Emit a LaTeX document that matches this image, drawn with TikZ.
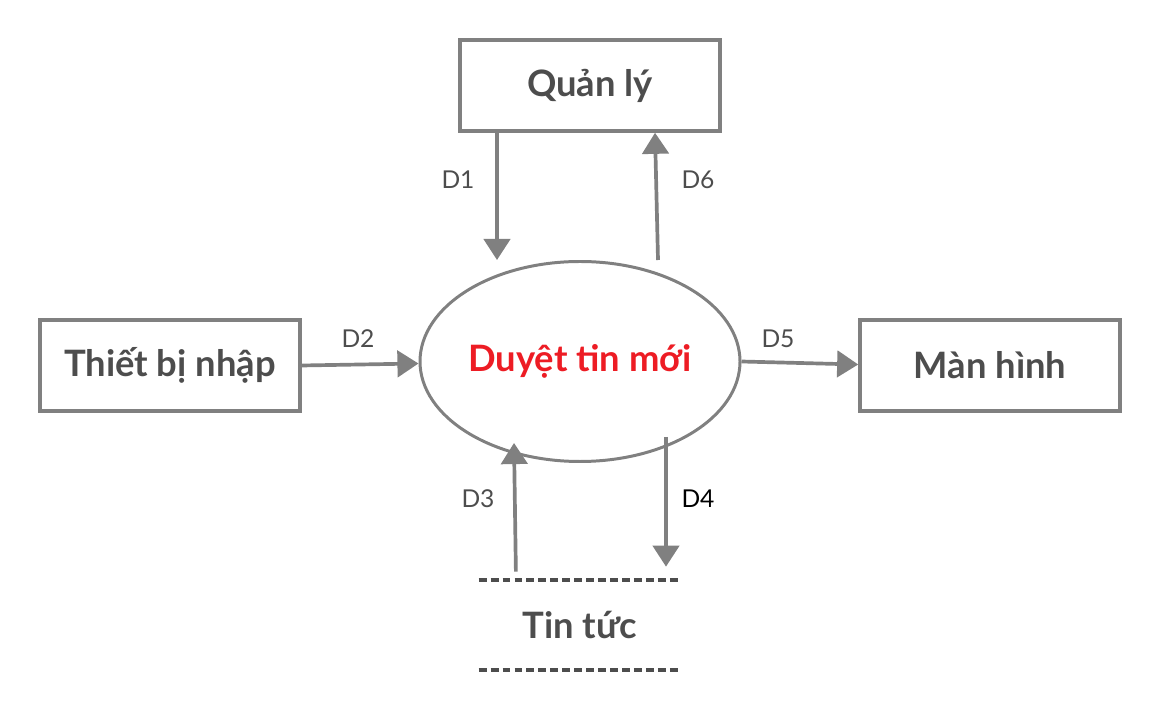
\documentclass[tikz,border=0pt]{standalone}
\usepackage{fontspec}
\setmainfont{Lato}
\usetikzlibrary{shapes.geometric,arrows.meta}
\definecolor{linegray}{RGB}{128,128,128}
\definecolor{textgray}{RGB}{77,77,77}
\definecolor{procred}{RGB}{237,28,36}
\begin{document}
\begin{tikzpicture}
  [entity/.style={rectangle, draw=linegray, line width=2pt, minimum width=5.2cm,
     minimum height=1.82cm, font=\fontsize{20.7}{24}\selectfont\bfseries, text=textgray},
   process/.style={ellipse, draw=linegray, line width=1.7pt, inner sep=0pt, minimum width=6.4cm,
     minimum height=4cm, font=\fontsize{20.7}{24}\selectfont\bfseries, text=procred},
   store/.style={draw=textgray, line width=2.2pt, dash pattern=on 4.5pt off 2.3pt},
   flow/.style={draw=linegray, line width=2.1pt, -{Triangle[length=12pt,width=15pt]}},
   lbl/.style={font=\fontsize{14}{17}\selectfont, text=textgray}]
\useasboundingbox (0,0) rectangle (23.2,-14.24);

% entities and process
\node[entity] (ql) at (11.8,-1.71) {Quản lý};
\node[entity] (tb) at (3.4,-7.31) {Thiết bị nhập};
\node[entity] (mh) at (19.8,-7.31) {Màn hình};
\node[process] (duyet) at (11.6,-7.23) {Duyệt tin mới};

% data store
\node[minimum width=4.04cm, minimum height=1.8cm, text=textgray,
  font=\fontsize{20.7}{24}\selectfont\bfseries] (tt) at (11.6,-12.5) {Tin tức};
\draw[store] (tt.north west) -- (tt.north east);
\draw[store] (tt.south west) -- (tt.south east);

% flows
\coordinate (d3end) at (10.28,-8.86);
\coordinate (d4start) at (13.32,-8.74);
\draw[flow] (ql.south -| 9.94,0) -- (duyet.north -| 9.94,0);
\draw[flow] (duyet.north -| 13.16,0) -- (ql.south -| 13.1,0);
\draw[flow] (tb.east) -- ([yshift=-0.04cm]duyet.west);
\draw[flow] (duyet.east) -- ([yshift=0.02cm]mh.west);
\draw[flow, shorten <=0.16cm] (tt.north -| 10.32,0) -- (d3end);
\draw[flow, shorten >=0.26cm] (d4start) -- (tt.north -| 13.32,0);

% labels
\node[lbl] (l1) at (9.16,-3.6) {D1};
\node[lbl] (l6) at (13.96,-3.6) {D6};
\node[lbl] (l2) at (7.16,-6.78) {D2};
\node[lbl] (l5) at (15.56,-6.78) {D5};
\node[lbl] (l3) at (9.56,-9.98) {D3};
\node[lbl, text=black] (l4) at (13.96,-9.98) {D4};
\end{tikzpicture}
\end{document}
